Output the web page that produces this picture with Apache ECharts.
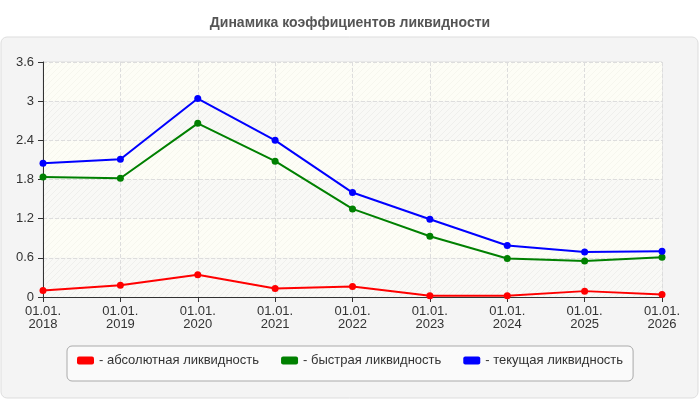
<!DOCTYPE html>
<html>
<head>
<meta charset="utf-8">
<script src="https://cdn.jsdelivr.net/npm/echarts@6/dist/echarts.min.js"></script>
<style>
	html, body { margin: 0; padding: 0; background: #ffffff; }
	#chart { width: 700px; height: 400px; }
</style>
</head>
<body>
<div id="chart"></div>
<script>
	var categories = [ "01.01.\n2018", "01.01.\n2019", "01.01.\n2020", "01.01.\n2021", "01.01.\n2022",
			"01.01.\n2023", "01.01.\n2024", "01.01.\n2025", "01.01.\n2026" ];
	var absoluteLiquidity = [ 0.10, 0.18, 0.34, 0.13, 0.16, 0.02, 0.02, 0.09, 0.04 ];
	var quickLiquidity = [ 1.84, 1.82, 2.66, 2.08, 1.35, 0.93, 0.59, 0.55, 0.61 ];
	var currentLiquidity = [ 2.05, 2.11, 3.04, 2.40, 1.60, 1.19, 0.79, 0.69, 0.70 ];
	var seriesNames = [ "абсолютная ликвидность", "быстрая ликвидность", "текущая ликвидность" ];
	var seriesColors = [ "#ff0000", "#008000", "#0000ff" ];

	// diagonal hatching used for the plot bands
	function makeHatch(base, line) {
		var c = document.createElement("canvas");
		c.width = 6;
		c.height = 6;
		var ctx = c.getContext("2d");
		ctx.fillStyle = base;
		ctx.fillRect(0, 0, 6, 6);
		ctx.strokeStyle = line;
		ctx.lineWidth = 1;
		ctx.beginPath();
		ctx.moveTo(0, 6);
		ctx.lineTo(6, 0);
		ctx.moveTo(-3, 3);
		ctx.lineTo(3, -3);
		ctx.moveTo(3, 9);
		ctx.lineTo(9, 3);
		ctx.stroke();
		return { image: c, repeat: "repeat" };
	}

	function makeSeries(name, data, color) {
		return {
			name : name,
			type : "line",
			data : data,
			symbol : "circle",
			symbolSize : 7,
			lineStyle : { color : color, width : 2 },
			itemStyle : { color : color },
			z : 3
		};
	}

	var chart = echarts.init(document.getElementById("chart"));
	chart.setOption({
		animation : false,
		textStyle : { fontFamily : "Arial, 'Liberation Sans', sans-serif" },
		graphic : [ {
			type : "rect",
			z : -10,
			shape : { x : 1, y : 37, width : 697, height : 361, r : 6 },
			style : { fill : "#f4f4f4", stroke : "#dddddd", lineWidth : 1 }
		} ],
		title : {
			text : "Динамика коэффициентов ликвидности",
			left : "center",
			top : 11,
			textStyle : { fontSize : 14, fontWeight : "bold", color : "#555555" }
		},
		legend : {
			left : 67,
			top : 346,
			padding : [ 8, 10, 14, 10 ],
			itemGap : 22,
			itemWidth : 17,
			itemHeight : 8,
			icon : "roundRect",
			backgroundColor : "#fafafa",
			borderColor : "#aaaaaa",
			borderWidth : 1,
			borderRadius : 5,
			data : seriesNames,
			formatter : function(name) {
				return "- " + name;
			},
			textStyle : { fontSize : 13, color : "#333333" }
		},
		grid : {
			left : 43,
			right : 38,
			top : 62,
			bottom : 103,
			show : true,
			borderColor : "#dddddd",
			borderWidth : 1
		},
		xAxis : {
			type : "category",
			data : categories,
			boundaryGap : false,
			axisLine : { lineStyle : { color : "#333333" } },
			axisTick : { length : 5, lineStyle : { color : "#333333" } },
			axisLabel : { color : "#333333", fontSize : 13, lineHeight : 13, margin : 8 },
			splitLine : { show : true, lineStyle : { color : "#dddddd", type : "dashed" } }
		},
		yAxis : {
			type : "value",
			min : 0,
			max : 3.6,
			interval : 0.6,
			axisLine : { show : true, lineStyle : { color : "#333333" } },
			axisTick : { show : true, length : 5, lineStyle : { color : "#333333" } },
			axisLabel : { color : "#333333", fontSize : 13, margin : 9 },
			splitLine : { lineStyle : { color : "#dddddd", type : "dashed" } },
			splitArea : {
				show : true,
				areaStyle : { color : [ makeHatch("#f9f9f6", "#efefec"), makeHatch("#fdfdf6", "#f6f6ee") ] }
			}
		},
		series : [ makeSeries(seriesNames[0], absoluteLiquidity, seriesColors[0]),
				makeSeries(seriesNames[1], quickLiquidity, seriesColors[1]),
				makeSeries(seriesNames[2], currentLiquidity, seriesColors[2]) ]
	});
</script>
</body>
</html>
